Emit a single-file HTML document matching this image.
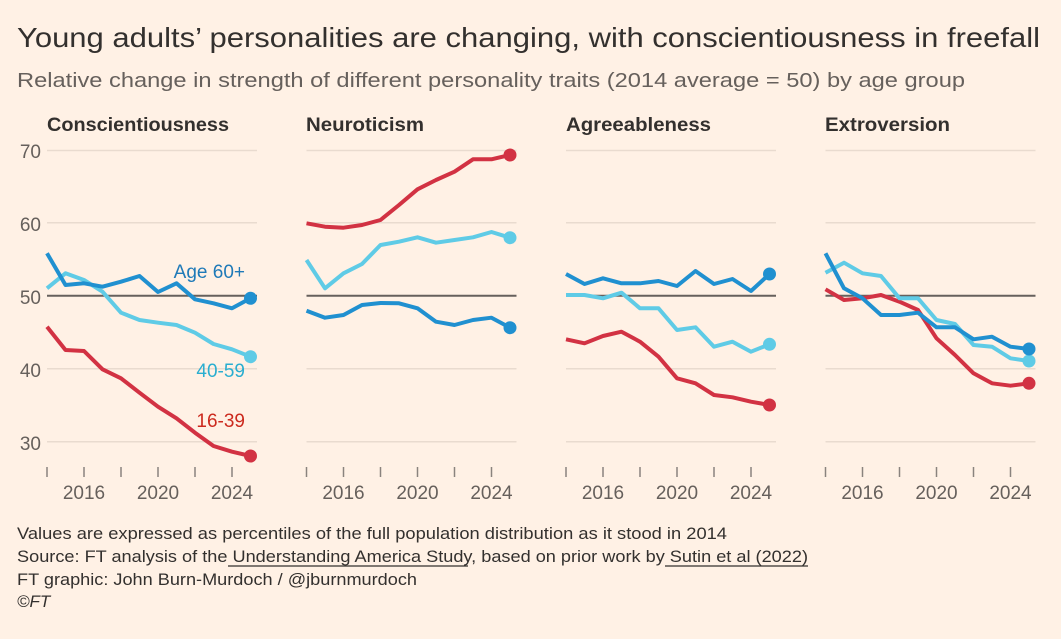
<!DOCTYPE html>
<html><head><meta charset="utf-8"><style>
html,body{margin:0;padding:0;background:#fff1e5;}
svg{display:block;font-family:"Liberation Sans",sans-serif;}
</style></head><body>
<svg width="1061" height="639" viewBox="0 0 1061 639" xmlns="http://www.w3.org/2000/svg">
<rect width="1061" height="639" fill="#fff1e5"/>
<text x="17" y="47" font-size="28" fill="#33302e" textLength="1023" lengthAdjust="spacingAndGlyphs">Young adults’ personalities are changing, with conscientiousness in freefall</text>
<text x="17" y="87" font-size="20" fill="#66605c" textLength="948" lengthAdjust="spacingAndGlyphs">Relative change in strength of different personality traits (2014 average = 50) by age group</text>
<g font-size="19" font-weight="bold" fill="#33302e">
<text x="47" y="131" textLength="182" lengthAdjust="spacingAndGlyphs">Conscientiousness</text>
<text x="306" y="131" textLength="118" lengthAdjust="spacingAndGlyphs">Neuroticism</text>
<text x="566" y="131" textLength="145" lengthAdjust="spacingAndGlyphs">Agreeableness</text>
<text x="825" y="131" textLength="125" lengthAdjust="spacingAndGlyphs">Extroversion</text>
</g>
<g font-size="19" fill="#66605c" text-anchor="end">
<text x="41" y="158">70</text><text x="41" y="231">60</text><text x="41" y="304">50</text><text x="41" y="377">40</text><text x="41" y="450">30</text>
</g>
<g stroke="#e9dbcf" stroke-width="1.5">
<path d="M47 150.5H257M47 222.7H257M47 368.7H257M47 441.7H257"/>
<path d="M306.5 150.5H516.5M306.5 222.7H516.5M306.5 368.7H516.5M306.5 441.7H516.5"/>
<path d="M566 150.5H776M566 222.7H776M566 368.7H776M566 441.7H776"/>
<path d="M825.5 150.5H1035.5M825.5 222.7H1035.5M825.5 368.7H1035.5M825.5 441.7H1035.5"/>
</g>
<g stroke="#66605c" stroke-width="2">
<path d="M47 295.7H257M306.5 295.7H516.5M566 295.7H776M825.5 295.7H1035.5"/>
</g>
<g stroke="#8a837e" stroke-width="1.5">
<path d="M47 467V477M84 467V477M121 467V477M158 467V477M195 467V477M232 467V477"/>
<path d="M306.5 467V477M343.5 467V477M380.5 467V477M417.5 467V477M454.5 467V477M491.5 467V477"/>
<path d="M566 467V477M603 467V477M640 467V477M677 467V477M714 467V477M751 467V477"/>
<path d="M825.5 467V477M862.5 467V477M899.5 467V477M936.5 467V477M973.5 467V477M1010.5 467V477"/>
</g>
<g font-size="19" fill="#66605c" text-anchor="middle">
<text x="84" y="499">2016</text><text x="158" y="499">2020</text><text x="232" y="499">2024</text>
<text x="343.5" y="499">2016</text><text x="417.5" y="499">2020</text><text x="491.5" y="499">2024</text>
<text x="603" y="499">2016</text><text x="677" y="499">2020</text><text x="751" y="499">2024</text>
<text x="862.5" y="499">2016</text><text x="936.5" y="499">2020</text><text x="1010.5" y="499">2024</text>
</g>
<g fill="none" stroke-width="4" stroke-linejoin="round" stroke-linecap="butt">
<polyline stroke="#d23243" points="47,326.7 65.5,350 84,351 102.5,369.3 121,378.3 139.5,392.7 158,406.7 176.5,418.3 195,432.7 213.5,446 232,451.7 250.5,456"/>
<polyline stroke="#5fcbe6" points="47,288.3 65.5,273.3 84,280 102.5,291.7 121,312.7 139.5,320 158,322.7 176.5,325 195,332.7 213.5,344 232,349.3 250.5,356.7"/>
<polyline stroke="#2090d0" points="47,253.3 65.5,285 84,283.3 102.5,286.7 121,281.7 139.5,276 158,292 176.5,283.3 195,299.3 213.5,303.3 232,308.3 250.5,298.3"/>
<polyline stroke="#d23243" points="306.5,223.3 325,226.7 343.5,227.7 362,225 380.5,220 399,205 417.5,189.3 436,180 454.5,171.7 473,159.3 491.5,159.3 510,155"/>
<polyline stroke="#5fcbe6" points="306.5,260 325,288.3 343.5,273.3 362,264 380.5,245 399,241.7 417.5,237.3 436,242.7 454.5,240 473,237.3 491.5,232 510,237.7"/>
<polyline stroke="#2090d0" points="306.5,310.7 325,317.7 343.5,315 362,305 380.5,303 399,303.3 417.5,308.3 436,321.7 454.5,325 473,320 491.5,317.7 510,327.7"/>
<polyline stroke="#d23243" points="566,339.3 584.5,343.3 603,336 621.5,331.7 640,341.7 658.5,356.7 677,378.3 695.5,383.3 714,395 732.5,397.3 751,401.7 769.5,405"/>
<polyline stroke="#5fcbe6" points="566,295 584.5,295 603,298.3 621.5,292.7 640,308.3 658.5,308.3 677,330 695.5,327.3 714,346.7 732.5,341.7 751,351.7 769.5,344.3"/>
<polyline stroke="#2090d0" points="566,274 584.5,284 603,278.3 621.5,283.3 640,283.3 658.5,281 677,286 695.5,271 714,284 732.5,279 751,291 769.5,274"/>
<polyline stroke="#d23243" points="825.5,289.3 844,300 862.5,298.3 881,295 899.5,301.7 918,310 936.5,338.3 955,355 973.5,373.3 992,383.3 1010.5,385.7 1029,383.3"/>
<polyline stroke="#5fcbe6" points="825.5,272.7 844,262.7 862.5,273.3 881,276 899.5,298.3 918,298.3 936.5,320 955,324 973.5,345 992,346.7 1010.5,358.3 1029,361"/>
<polyline stroke="#2090d0" points="825.5,253.3 844,288.3 862.5,298.3 881,315 899.5,315 918,312.7 936.5,327.3 955,327.3 973.5,339.3 992,336.7 1010.5,346.7 1029,349"/>
</g>
<g>
<circle cx="250.5" cy="456" r="6.5" fill="#d23243"/><circle cx="250.5" cy="356.7" r="6.5" fill="#5fcbe6"/><circle cx="250.5" cy="298.3" r="6.5" fill="#2090d0"/>
<circle cx="510" cy="155" r="6.5" fill="#d23243"/><circle cx="510" cy="237.7" r="6.5" fill="#5fcbe6"/><circle cx="510" cy="327.7" r="6.5" fill="#2090d0"/>
<circle cx="769.5" cy="405" r="6.5" fill="#d23243"/><circle cx="769.5" cy="344.3" r="6.5" fill="#5fcbe6"/><circle cx="769.5" cy="274" r="6.5" fill="#2090d0"/>
<circle cx="1029" cy="383.3" r="6.5" fill="#d23243"/><circle cx="1029" cy="361" r="6.5" fill="#5fcbe6"/><circle cx="1029" cy="349" r="6.5" fill="#2090d0"/>
</g>
<g font-size="19" text-anchor="end">
<text x="245" y="278" fill="#1f7ab8">Age 60+</text>
<text x="245" y="377" fill="#2aaed0">40-59</text>
<text x="245" y="427" fill="#cc2a1e">16-39</text>
</g>
<g font-size="17" fill="#33302e">
<text x="17" y="539" textLength="710" lengthAdjust="spacingAndGlyphs">Values are expressed as percentiles of the full population distribution as it stood in 2014</text>
<text x="17" y="562" textLength="791" lengthAdjust="spacingAndGlyphs">Source: FT analysis of the Understanding America Study, based on prior work by Sutin et al (2022)</text>
<text x="17" y="585" textLength="400" lengthAdjust="spacingAndGlyphs">FT graphic: John Burn-Murdoch / @jburnmurdoch</text>
<text x="17" y="607" font-style="italic">©FT</text>
</g>
<path d="M228 566H468M665 566H808" stroke="#33302e" stroke-width="1.3"/>
</svg>
</body></html>
